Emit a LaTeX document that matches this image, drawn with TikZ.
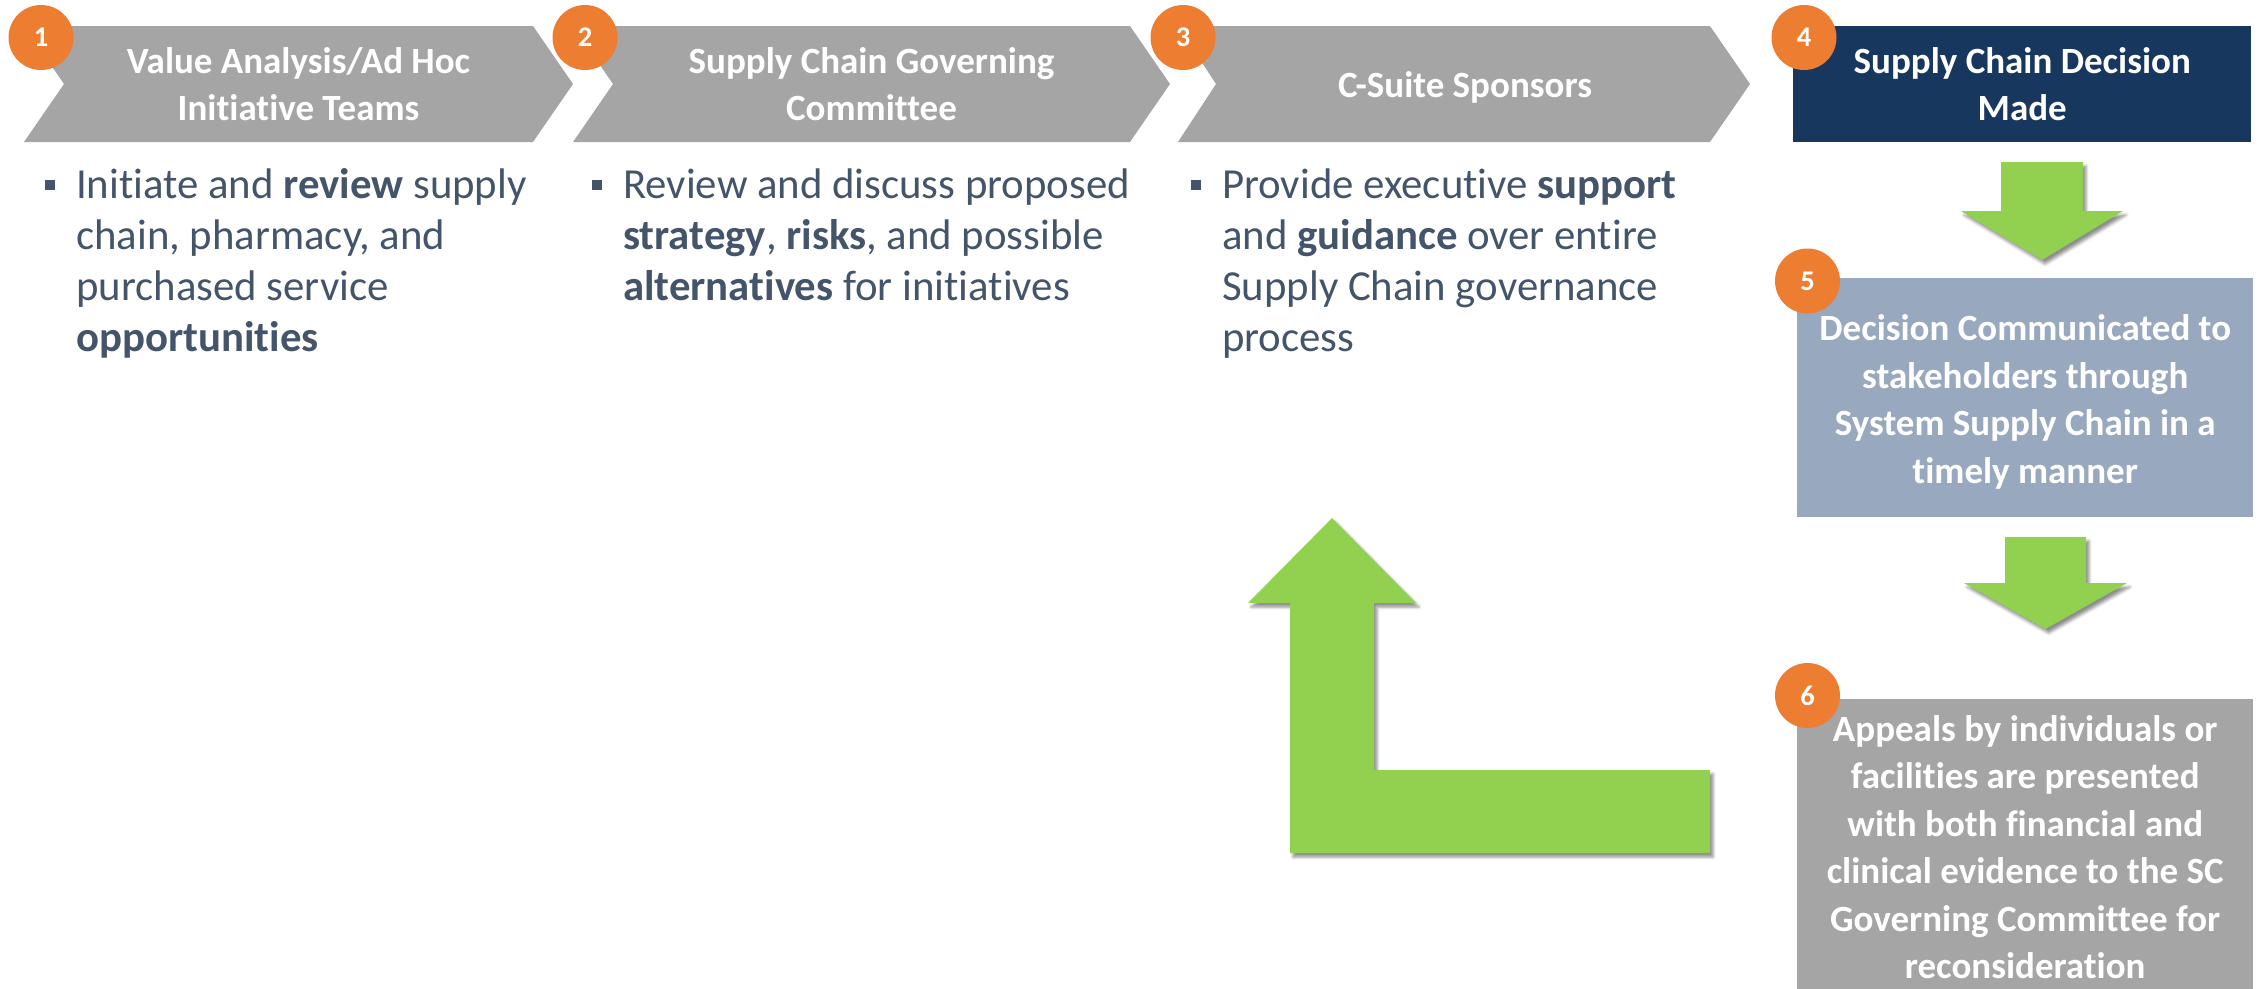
\documentclass[tikz,border=0pt]{standalone}
\usepackage{fontspec}
\setmainfont{Carlito}[Ligatures=NoCommon]
\usetikzlibrary{shadows.blur}
\definecolor{chevgray}{HTML}{A5A5A5}
\definecolor{navy}{HTML}{17375E}
\definecolor{slateblue}{HTML}{98A8BE}
\definecolor{badge}{HTML}{ED7D31}
\definecolor{leaf}{HTML}{92D050}
\definecolor{bodytext}{HTML}{44546A}
\begin{document}
\begin{tikzpicture}[x=1pt,y=-1pt,
  chevron/.style={fill=chevgray},
  headtext/.style={text=white, font=\bfseries\fontsize{37}{47}\selectfont, align=center, inner sep=0pt},
  panel/.style={anchor=north west, inner sep=0pt},
  paneltext/.style={inner sep=0pt, text=white,
    font=\bfseries\fontsize{37}{47.5}\selectfont, align=center},
  badgecirc/.style={circle, fill=badge, minimum size=65pt, inner sep=0pt, text=white,
    font=\bfseries\fontsize{28.5}{30}\selectfont},
  bodytxt/.style={text=bodytext, font=\fontsize{42.8}{50.8}\selectfont, align=left,
    inner sep=0pt, anchor=base west},
  bulletsq/.style={fill=bodytext, minimum size=10pt, inner sep=0pt},
  greenarrow/.style={fill=leaf, blur shadow={shadow xshift=3pt, shadow yshift=-4pt,
    shadow blur radius=3pt, shadow opacity=45}},
]
\path[use as bounding box] (0,0) rectangle (2265,988);

% process chevrons along the top
\fill[chevron] (24,26) -- (533,26) -- (573,84) -- (533,142) -- (24,142) -- (64,84) -- cycle;
\fill[chevron] (573,26) -- (1130,26) -- (1170,84) -- (1130,142) -- (573,142) -- (613,84) -- cycle;
\fill[chevron] (1178,26) -- (1710,26) -- (1750,84) -- (1710,142) -- (1178,142) -- (1216,84) -- cycle;

\node[headtext] (h1) at (298.5,84) {Value Analysis/Ad Hoc\\Initiative Teams};
\node[headtext] (h2) at (871.5,84) {Supply Chain Governing\\Committee};
\node[headtext, anchor=base] (h3) at (1465,97) {C-Suite Sponsors};

% decision column on the right
\node[panel, fill=navy, minimum width=458pt, minimum height=116pt] (d4) at (1793,26) {};
\node[paneltext] (d4t) at (d4.center) {Supply Chain Decision\\Made};
\node[panel, fill=slateblue, minimum width=456pt, minimum height=239pt] (d5) at (1797,278) {};
\node[paneltext] (d5t) at ([yshift=-4pt]d5.center)
  {Decision Communicated to\\stakeholders through\\System Supply Chain in a\\timely manner};
\node[panel, fill=chevgray, minimum width=456pt, minimum height=296pt] (d6) at (1797,699) {};
\node[paneltext] (d6t) at (d6.center)
  {Appeals by individuals or\\facilities are presented\\with both financial and\\clinical evidence to the SC\\Governing Committee for\\reconsideration};

% green flow arrows
\fill[greenarrow] (2001,162) -- (2083,162) -- (2083,211) -- (2123,211) -- (2042,260)
  -- (1961,211) -- (2001,211) -- cycle;
\fill[greenarrow] (2005,537) -- (2086,537) -- (2086,583) -- (2127,583) -- (2045.5,629)
  -- (1964,583) -- (2005,583) -- cycle;
\fill[greenarrow] (1332,518) -- (1416,603) -- (1374,603) -- (1374,770) -- (1710,770)
  -- (1710,853) -- (1290,853) -- (1290,603) -- (1248,603) -- cycle;

% numbered badges
\node[badgecirc] (n1) at (41,37.5) {1};
\node[badgecirc] (n2) at (585,37.5) {2};
\node[badgecirc] (n3) at (1183,37.5) {3};
\node[badgecirc] (n4) at (1804,37.5) {4};
\node[badgecirc] (n5) at (1807.5,281) {5};
\node[badgecirc] (n6) at (1807.5,695.5) {6};

% bullet descriptions (anchored on the baseline of their last line)
\node[bulletsq] (b1) at (50,185) {};
\node[bulletsq] (b2) at (597,185) {};
\node[bulletsq] (b3) at (1196,185) {};
\node[bodytxt] (t1) at (76,351)
  {Initiate and \textbf{review} supply\\chain, pharmacy, and\\purchased service\\\textbf{opportunities}};
\node[bodytxt] (t2) at (623,300.2)
  {Review and discuss proposed\\\textbf{strategy}, \textbf{risks}, and possible\\\textbf{alternatives} for initiatives};
\node[bodytxt] (t3) at (1222,351)
  {Provide executive \textbf{support}\\and \textbf{guidance} over entire\\Supply Chain governance\\process};
\end{tikzpicture}
\end{document}
